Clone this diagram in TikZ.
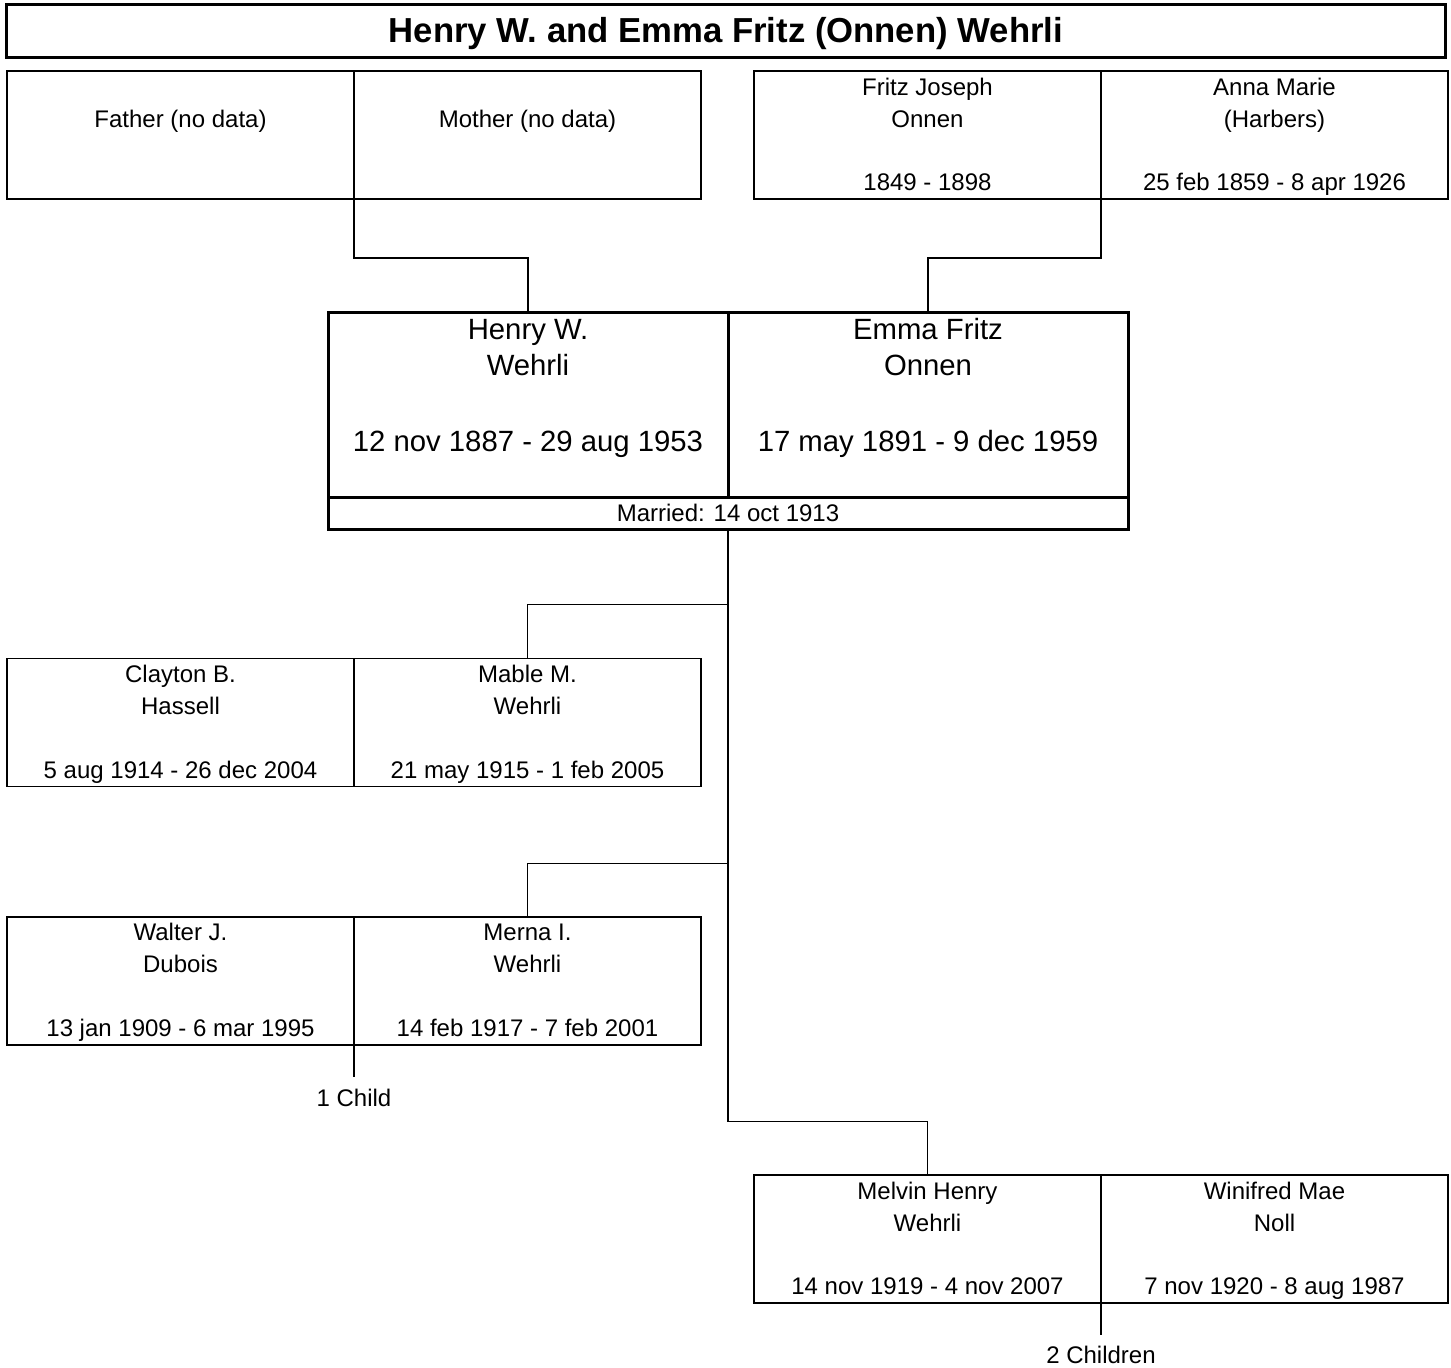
\documentclass[tikz,border=0pt]{standalone}
\usepackage{fontspec}
\setmainfont{Liberation Sans}
\tikzset{
  pbox/.style={draw, rectangle, line width=1.8pt, minimum width=347pt, minimum height=128pt, inner sep=0pt, outer sep=0pt, anchor=north west},
  cbox/.style={draw, rectangle, line width=3pt, inner sep=0pt, outer sep=0pt, anchor=north west},
  conn/.style={draw, line width=1.8pt},
  smalltxt/.style={anchor=base, inner sep=0pt, font=\fontsize{24}{28}\selectfont},
  bigtxt/.style={anchor=base, inner sep=0pt, font=\fontsize{29.3}{35}\selectfont},
  titletxt/.style={anchor=base, inner sep=0pt, font=\bfseries\fontsize{34.7}{40}\selectfont},
}
\newcommand{\famperson}[6]{%
  \node[pbox] (#1) at (#2,#3) {};
  \node[smalltxt] (#1-a) at ([yshift=-24pt]#1.north) {#4};
  \node[smalltxt] (#1-b) at ([yshift=-56pt]#1.north) {#5};
  \node[smalltxt] (#1-c) at ([yshift=-119.5pt]#1.north) {#6};
}
\begin{document}
\begin{tikzpicture}[x=1pt,y=-1pt]
\useasboundingbox (0,0) rectangle (1451,1368);
\fill[white] (0,0) rectangle (1451,1368);

% title
\node[cbox, minimum width=1439pt, minimum height=53.4pt] (title) at (6,4.3) {};
\node[titletxt] (titletext) at (726,42.7) {Henry W. and Emma Fritz (Onnen) Wehrli};

% grandparents
\famperson{fa}{7}{71.3}{}{Father (no data)}{}
\famperson{mo}{354}{71.3}{}{Mother (no data)}{}
\famperson{fj}{754}{71.3}{Fritz Joseph}{Onnen}{1849 - 1898}
\famperson{am}{1101}{71.3}{Anna Marie}{(Harbers)}{25 feb 1859 - 8 apr 1926}

% main couple
\node[cbox, minimum width=400pt, minimum height=185.5pt] (hw) at (328,312) {};
\node[cbox, minimum width=400pt, minimum height=185.5pt] (ef) at (728,312) {};
\node[cbox, minimum width=800pt, minimum height=32pt] (mar) at (328,497.5) {};
\node[bigtxt] (hw-a) at (528,339) {Henry W.};
\node[bigtxt] (hw-b) at (528,375.5) {Wehrli};
\node[bigtxt] (hw-c) at (528,451) {12 nov 1887 - 29 aug 1953};
\node[bigtxt] (ef-a) at (928,339) {Emma Fritz};
\node[bigtxt] (ef-b) at (928,375.5) {Onnen};
\node[bigtxt] (ef-c) at (928,451) {17 may 1891 - 9 dec 1959};
\node[smalltxt] (mar-t) at (728,521.7) {Married: 14 oct 1913};

% children
\famperson{cb}{7}{658.5}{Clayton B.}{Hassell}{5 aug 1914 - 26 dec 2004}
\famperson{mm}{354}{658.5}{Mable M.}{Wehrli}{21 may 1915 - 1 feb 2005}
\famperson{wj}{7}{916.8}{Walter J.}{Dubois}{13 jan 1909 - 6 mar 1995}
\famperson{mi}{354}{916.8}{Merna I.}{Wehrli}{14 feb 1917 - 7 feb 2001}
\famperson{mh}{754}{1175}{Melvin Henry}{Wehrli}{14 nov 1919 - 4 nov 2007}
\famperson{wm}{1101}{1175}{Winifred Mae}{Noll}{7 nov 1920 - 8 aug 1987}

\node[smalltxt] (kids1) at (354,1106.7) {1 Child};
\node[smalltxt] (kids2) at (1101,1363) {2 Children};

% connectors
\draw[conn] (fa.south east) -- ++(0,59) -| (hw.north);
\draw[conn] (fj.south east) -- ++(0,59) -| (ef.north);
\draw[conn] (mar.south) -- ++(0,592) -| (mh.north);
\draw[conn] ([yshift=-75pt]mar.south) -| (mm.north);
\draw[conn] ([yshift=-334pt]mar.south) -| (mi.north);
\draw[conn] (wj.south east) -- ([yshift=12.5pt]kids1.north);
\draw[conn] (mh.south east) -- ([yshift=10pt]kids2.north);
\end{tikzpicture}
\end{document}
